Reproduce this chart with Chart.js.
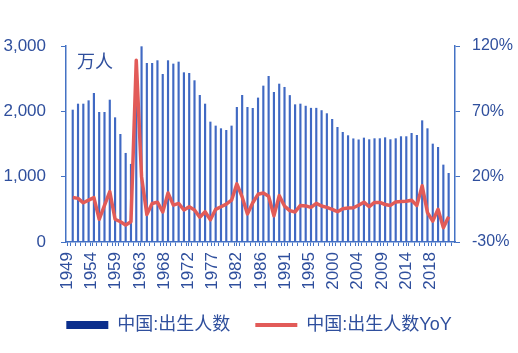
<!DOCTYPE html>
<html>
<head>
<meta charset="utf-8">
<script src="https://cdn.jsdelivr.net/npm/chart.js@4.4.1/dist/chart.umd.min.js"></script>
<style>
  html, body { margin: 0; padding: 0; background: #fff; }
  #wrap { width: 518px; height: 353px; position: relative; }
</style>
</head>
<body>
<div id="wrap"><canvas id="mychart"></canvas></div>
<script>
const years = [
  1950, 1951, 1952, 1953, 1954, 1955, 1956, 1957, 1958, 1959,
  1960, 1961, 1962, 1963, 1964, 1965, 1966, 1967, 1968, 1969,
  1970, 1971, 1972, 1973, 1974, 1975, 1976, 1977, 1978, 1979,
  1980, 1981, 1982, 1983, 1984, 1985, 1986, 1987, 1988, 1989,
  1990, 1991, 1992, 1993, 1994, 1995, 1996, 1997, 1998, 1999,
  2000, 2001, 2002, 2003, 2004, 2005, 2006, 2007, 2008, 2009,
  2010, 2011, 2012, 2013, 2014, 2015, 2016, 2017, 2018, 2019,
  2020, 2021
];
// 万人
const births = [
  2020, 2112, 2112, 2163, 2276, 1985, 1985, 2173, 1903, 1648,
  1358, 1190, 2480, 2990, 2735, 2735, 2776, 2566, 2776, 2725,
  2755, 2592, 2582, 2470, 2245, 2112, 1837, 1776, 1735, 1709,
  1776, 2061, 2245, 2061, 2046, 2205, 2388, 2536, 2291, 2418,
  2368, 2243, 2102, 2112, 2080, 2048, 2048, 2012, 1965, 1878,
  1755, 1679, 1628, 1580, 1564, 1592, 1567, 1582, 1582, 1597,
  1567, 1582, 1613, 1613, 1663, 1633, 1857, 1735, 1500, 1449,
  1179, 1051
];
// %
const birthsYoY = [
  4, 3.4, 0, 2, 4, -12.6, -2, 8.5, -12.6, -14.5,
  -17, -14.5, 109, 20, -9, -0.5, 0.5, -7, 7.5, -1.8,
  -0.5, -5.5, -3, -5.5, -11, -6.8, -13, -5, -3, -1,
  2, 14.5, 4.5, -8.5, 0, 6.5, 7.5, 5, -10, 5.5,
  -2.5, -6, -7, -2, -2.4, -3.5, -0.4, -2.5, -3.5, -5,
  -6.8, -4.5, -4, -3.8, -1.9, 0.5, -3, 0.3, 0.3, -1.3,
  -2, 0.7, 1, 1.2, 2, -2, 13, -7.5, -14, -5,
  -19, -10.7
];
const tickLabels = ['1949', '1954', '1959', '1963', '1968', '1972', '1977', '1982',
  '1986', '1991', '1995', '2000', '2004', '2009', '2014', '2018'];
const seriesNames = ['中国:出生人数', '中国:出生人数YoY'];
const unitLabel = '万人';

const axisBlue = '#4472c4';
const textBlue = '#2f4f9d';
const barBlue = '#4069c3';
const legendNavy = '#0b2e8c';
const lineRed = '#e25b58';
const fontFam = '"Liberation Sans", Arial, "Noto Sans CJK SC", sans-serif';

Chart.defaults.font.family = fontFam;

const unitPlugin = {
  id: 'unitText',
  afterDraw(chart) {
    const {ctx, chartArea} = chart;
    ctx.save();
    ctx.font = '18px "Noto Sans CJK SC"';
    ctx.fillStyle = textBlue;
    ctx.textBaseline = 'middle';
    ctx.fillText(unitLabel, chartArea.left + 11, chartArea.top + 15);
    ctx.restore();
  }
};

const data = {
  datasets: [{
    type: 'bar',
    label: seriesNames[0],
    data: years.map((y, i) => ({x: y, y: births[i]})),
    backgroundColor: barBlue,
    barThickness: 1.5,
    borderWidth: 0,
    yAxisID: 'y',
    order: 1
  }, {
    type: 'line',
    label: seriesNames[1],
    data: years.map((y, i) => ({x: y, y: birthsYoY[i]})),
    borderColor: lineRed,
    backgroundColor: lineRed,
    borderWidth: 3.5,
    pointRadius: 0,
    tension: 0,
    borderJoinStyle: 'round',
    yAxisID: 'y1',
    order: 0
  }]
};

const config = {
  type: 'bar',
  data: data,
  plugins: [unitPlugin],
  options: {
    responsive: true,
    maintainAspectRatio: false,
    animation: false,
    devicePixelRatio: 1,
    layout: { padding: { top: 46, left: 0, right: 0, bottom: 9 } },
    plugins: {
      tooltip: { enabled: false },
      legend: {
        position: 'bottom',
        labels: {
          usePointStyle: true,
          pointStyleWidth: 42,
          boxHeight: 8,
          padding: 10,
          color: textBlue,
          font: { size: 18, family: fontFam },
          generateLabels: () => [
            // trailing spaces widen the gap between the two legend items
            { text: seriesNames[0] + '   ', fillStyle: legendNavy, strokeStyle: legendNavy, lineWidth: 0, pointStyle: 'rect', fontColor: textBlue, datasetIndex: 0 },
            { text: seriesNames[1], fillStyle: lineRed, strokeStyle: lineRed, lineWidth: 4, pointStyle: 'line', fontColor: textBlue, datasetIndex: 1 }
          ]
        }
      }
    },
    scales: {
      x: {
        type: 'linear',
        min: 1948.73,
        max: 2022.2,
        offset: false,
        afterBuildTicks(scale) {
          const t = [];
          for (let v = 1949; v <= 2022; v++) t.push({value: v});
          tickLabels.forEach((s, j) => t.push({value: 1948.98 + 4.5695 * j, name: s}));
          t.sort((a, b) => a.value - b.value);
          scale.ticks = t;
        },
        afterFit(scale) { scale.height = 64; },
        ticks: {
          autoSkip: false,
          minRotation: 90,
          maxRotation: 90,
          padding: 6,
          color: textBlue,
          font: { size: 17 },
          callback: (v, i, t) => t[i].name || ''
        },
        grid: { drawOnChartArea: false, tickLength: 4, tickColor: axisBlue, color: axisBlue },
        border: { color: axisBlue, width: 1.5 }
      },
      y: {
        position: 'left',
        min: 0,
        max: 3000,
        afterFit(scale) { scale.width = 66; },
        ticks: {
          stepSize: 1000,
          padding: 15,
          color: textBlue,
          font: { size: 17 },
          callback: v => v.toLocaleString('en-US')
        },
        grid: { drawOnChartArea: false, tickLength: 5, tickColor: axisBlue },
        border: { color: axisBlue, width: 1.5 }
      },
      y1: {
        position: 'right',
        min: -30,
        max: 120,
        afterFit(scale) { scale.width = 63; },
        ticks: {
          stepSize: 50,
          padding: 12,
          color: textBlue,
          font: { size: 16 },
          callback: v => v + '%'
        },
        grid: { drawOnChartArea: false, tickLength: 5, tickColor: axisBlue },
        border: { color: axisBlue, width: 1.5 }
      }
    }
  }
};

const myChart = document.querySelector('#mychart');
const birthChart = new Chart(myChart, config);
</script>
</body>
</html>
